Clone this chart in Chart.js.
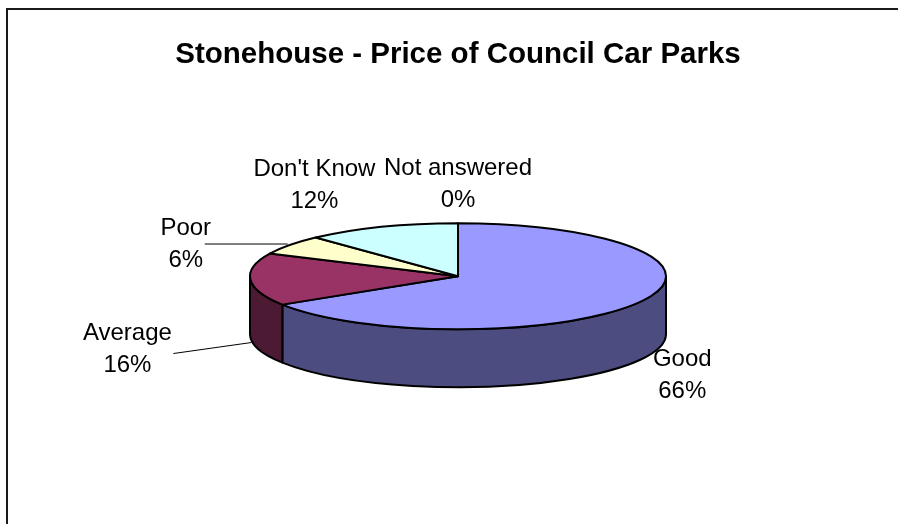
<!DOCTYPE html>
<html>
<head>
<meta charset="utf-8">
<script src="https://cdn.jsdelivr.net/npm/chart.js@4.4.1/dist/chart.umd.min.js"></script>
<style>
  html, body { margin: 0; padding: 0; background: #ffffff; }
</style>
</head>
<body>
<canvas id="pieChart" width="898" height="524"></canvas>
<script>
// Survey answers and their share of responses (%)
const categories = ['Good', 'Average', 'Poor', "Don't Know", 'Not answered'];
const shares = [66, 16, 6, 12, 0];

// face colour and darker wall colour per slice
const topColors = ['#9999FF', '#993366', '#FFFFCC', '#CCFFFF', '#FFFFFF'];
const sideColors = ['#4C4C80', '#4D1A33', '#80805F', '#668080', '#808080'];

// label block offset from the slice's mid point on the rim
const labelOffsets = [[42, 74], [-123, 70], [-104, -1], [-67, -42], [0, -39]];
// leader lines: [start offset from label centre, end offset from rim point]
const leaders = [null, [[46, 4], [1, 63]], [[19, 0], [-2, -1]], null, null];

const FONT = "Arial, 'Liberation Sans', sans-serif";
const TILT = 0.255;   // ry / rx of the top ellipse
const DEPTH = 58;     // wall height in px

const pie3d = {
    id: 'pie3d',
    beforeDraw(chart) {
        // chart frame, top and left edges
        const ctx = chart.ctx;
        ctx.save();
        ctx.fillStyle = '#1a1a1a';
        ctx.fillRect(6, 8, chart.width - 6, 2);
        ctx.fillRect(6, 8, 2, chart.height - 8);
        ctx.restore();
    },
    beforeDatasetDraw(chart, args) {
        const ctx = chart.ctx;
        const arcs = chart.getDatasetMeta(args.index).data;
        const cx = arcs[0].x, cy = arcs[0].y;
        const rx = arcs[0].outerRadius, ry = rx * TILT;

        ctx.save();
        ctx.lineWidth = 2;
        ctx.lineJoin = 'round';
        ctx.strokeStyle = '#000000';

        // front walls: only the part between 0 and PI faces the viewer
        arcs.forEach((arc, i) => {
            const a = Math.max(arc.startAngle, 0);
            const b = Math.min(arc.endAngle, Math.PI);
            if (b <= a) return;
            ctx.beginPath();
            ctx.ellipse(cx, cy, rx, ry, 0, a, b);
            ctx.ellipse(cx, cy + DEPTH, rx, ry, 0, b, a, true);
            ctx.closePath();
            ctx.fillStyle = sideColors[i];
            ctx.fill();
            ctx.stroke();
        });

        // top faces
        arcs.forEach((arc, i) => {
            if (arc.endAngle - arc.startAngle <= 0) return;
            ctx.beginPath();
            ctx.moveTo(cx, cy);
            ctx.ellipse(cx, cy, rx, ry, 0, arc.startAngle, arc.endAngle);
            ctx.closePath();
            ctx.fillStyle = topColors[i];
            ctx.fill();
            ctx.stroke();
        });
        ctx.restore();
        return false;
    },
    afterDatasetsDraw(chart) {
        const ctx = chart.ctx;
        const arcs = chart.getDatasetMeta(0).data;
        const cx = arcs[0].x, cy = arcs[0].y;
        const rx = arcs[0].outerRadius, ry = rx * TILT;

        ctx.save();
        ctx.font = '24px ' + FONT;
        ctx.fillStyle = '#000000';
        ctx.textAlign = 'center';
        ctx.textBaseline = 'middle';
        arcs.forEach((arc, i) => {
            const mid = (arc.startAngle + arc.endAngle) / 2;
            const px = cx + rx * Math.cos(mid);
            const py = cy + ry * Math.sin(mid);
            const lx = px + labelOffsets[i][0];
            const ly = py + labelOffsets[i][1];
            ctx.fillText(categories[i], lx, ly - 16);
            ctx.fillText(shares[i] + '%', lx, ly + 16);

            const ld = leaders[i];
            if (ld) {
                ctx.beginPath();
                ctx.lineWidth = 1;
                ctx.strokeStyle = '#000000';
                ctx.moveTo(lx + ld[0][0], ly + ld[0][1]);
                ctx.lineTo(px + ld[1][0], py + ld[1][1]);
                ctx.stroke();
            }
        });
        ctx.restore();
    }
};

const ctxPie = document.getElementById('pieChart').getContext('2d');
const pieChart = new Chart(ctxPie, {
    type: 'pie',
    data: {
        labels: categories,
        datasets: [{
            data: shares,
            backgroundColor: topColors,
            radius: 208
        }]
    },
    options: {
        responsive: false,
        animation: false,
        layout: {
            padding: { left: 18, right: 0, top: 0, bottom: 44 }
        },
        plugins: {
            legend: { display: false },
            tooltip: { enabled: false },
            title: {
                display: true,
                text: 'Stonehouse - Price of Council Car Parks',
                color: '#000000',
                font: { family: FONT, size: 29.5, weight: 'bold', lineHeight: 1.2 },
                padding: { top: 37, bottom: 0 }
            }
        }
    },
    plugins: [pie3d]
});
</script>
</body>
</html>
